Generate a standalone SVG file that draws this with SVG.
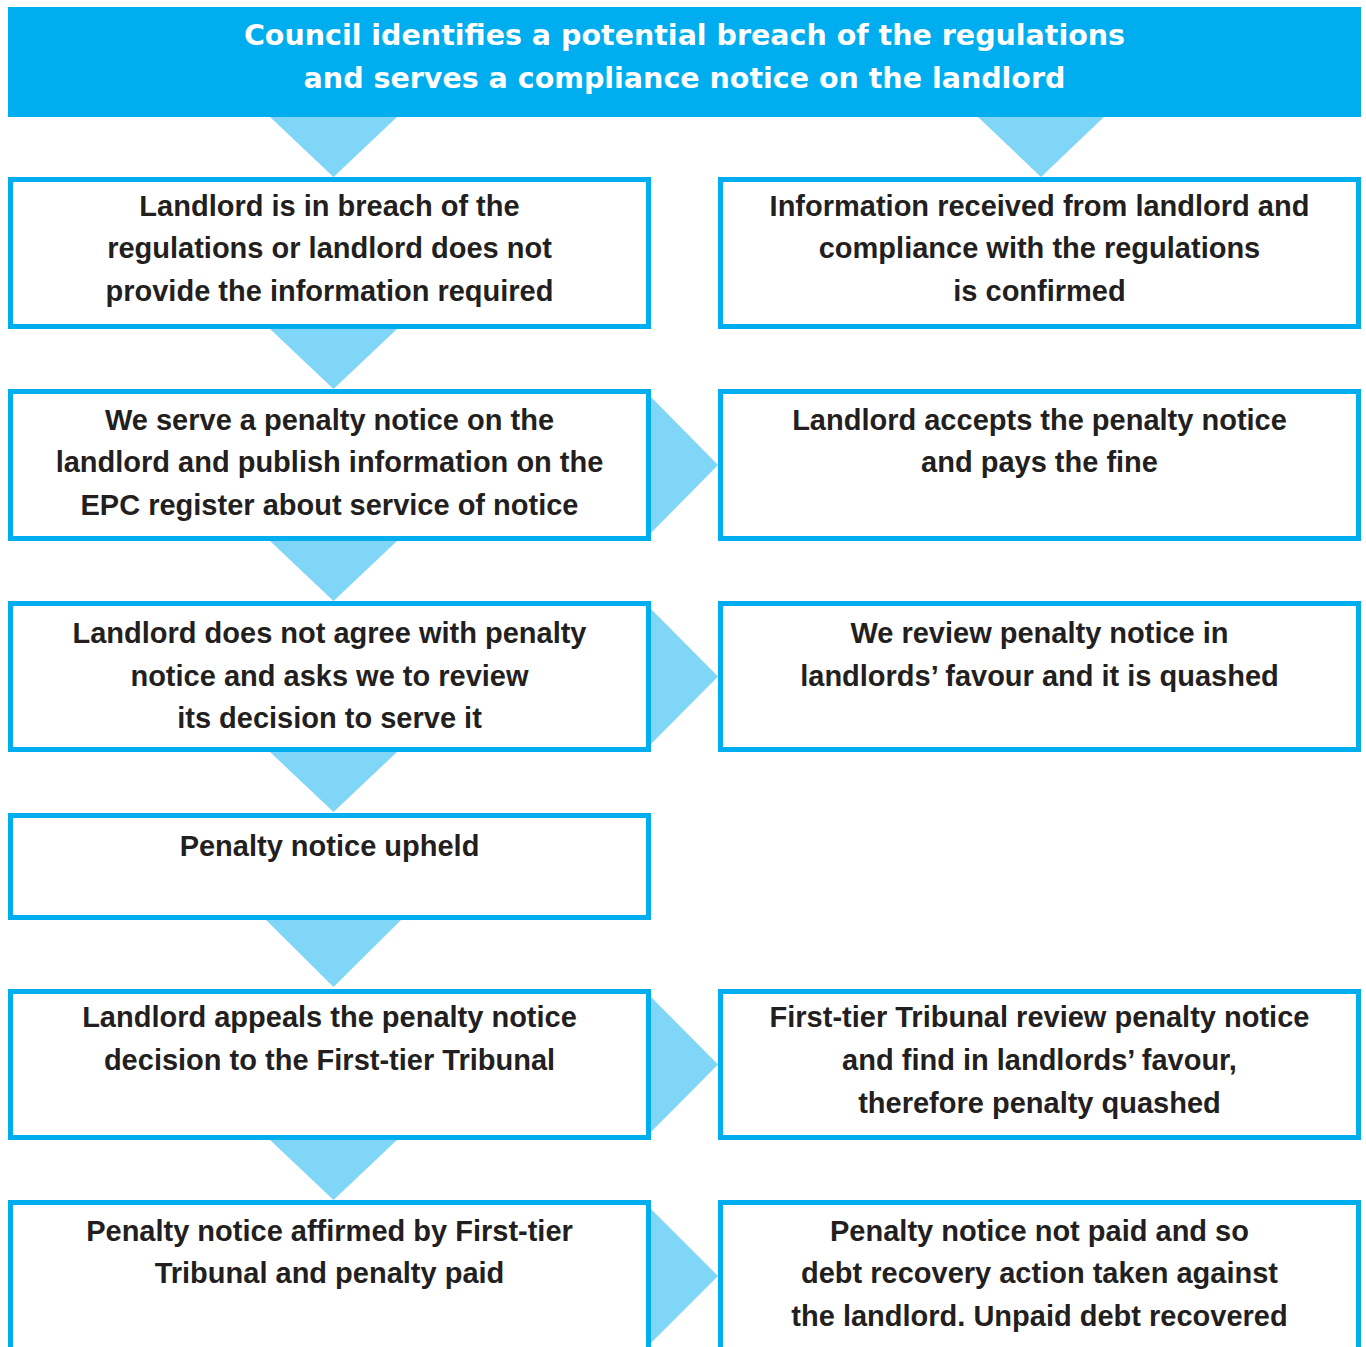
<svg xmlns="http://www.w3.org/2000/svg" width="1366" height="1347" viewBox="0 0 1366 1347">
<style>
.box{fill:#fff;stroke:#00AEEF;stroke-width:5}
.arr{fill:#80D6F7}
.t{font-family:"Liberation Sans",Arial,sans-serif;font-weight:bold;font-size:29px;fill:#231F20;text-anchor:middle}
.h{font-family:"DejaVu Sans","Liberation Sans",sans-serif;font-weight:bold;font-size:28.5px;fill:#fff;text-anchor:middle}
</style>
<rect width="1366" height="1347" fill="#fff"/>
<g id="connectors">
<polygon class="arr" points="269,116 398,116 333.5,177"/>
<polygon class="arr" points="977,116 1105,116 1041,177"/>
<polygon class="arr" points="269,328 398,328 333.5,389"/>
<polygon class="arr" points="269,540 398,540 333.5,601"/>
<polygon class="arr" points="269,751 398,751 333.5,812"/>
<polygon class="arr" points="265,919 402,919 333.5,987"/>
<polygon class="arr" points="269,1139 398,1139 333.5,1200"/>
<polygon class="arr" points="650,396 718,465 650,534"/>
<polygon class="arr" points="650,608 718,676.5 650,745"/>
<polygon class="arr" points="650,996 718,1064.5 650,1133"/>
<polygon class="arr" points="650,1208 718,1276 650,1344"/>
</g>
<g id="header">
<rect x="8" y="7" width="1353" height="110" fill="#00AEEF"/>
<text class="h" x="684.5" y="45">Council identifies a potential breach of the regulations</text>
<text class="h" x="684.5" y="88">and serves a compliance notice on the landlord</text>
</g>
<g id="n1">
<rect class="box" x="10.5" y="179.5" width="638" height="147"/>
<text class="t" x="329.5" y="215.5">Landlord is in breach of the</text>
<text class="t" x="329.5" y="258">regulations or landlord does not</text>
<text class="t" x="329.5" y="300.5">provide the information required</text>
</g>
<g id="n2">
<rect class="box" x="720.5" y="179.5" width="638" height="147"/>
<text class="t" x="1039.5" y="215.5">Information received from landlord and</text>
<text class="t" x="1039.5" y="258">compliance with the regulations</text>
<text class="t" x="1039.5" y="300.5">is confirmed</text>
</g>
<g id="n3">
<rect class="box" x="10.5" y="391.5" width="638" height="147"/>
<text class="t" x="329.5" y="429.5">We serve a penalty notice on the</text>
<text class="t" x="329.5" y="471.5">landlord and publish information on the</text>
<text class="t" x="329.5" y="514.5">EPC register about service of notice</text>
</g>
<g id="n4">
<rect class="box" x="720.5" y="391.5" width="638" height="147"/>
<text class="t" x="1039.5" y="429.5">Landlord accepts the penalty notice</text>
<text class="t" x="1039.5" y="471.5">and pays the fine</text>
</g>
<g id="n5">
<rect class="box" x="10.5" y="603.5" width="638" height="146"/>
<text class="t" x="329.5" y="642.5">Landlord does not agree with penalty</text>
<text class="t" x="329.5" y="685.5">notice and asks we to review</text>
<text class="t" x="329.5" y="727.5">its decision to serve it</text>
</g>
<g id="n6">
<rect class="box" x="720.5" y="603.5" width="638" height="146"/>
<text class="t" x="1039.5" y="642.5">We review penalty notice in</text>
<text class="t" x="1039.5" y="685.5">landlords’ favour and it is quashed</text>
</g>
<g id="n7">
<rect class="box" x="10.5" y="815.5" width="638" height="102"/>
<text class="t" x="329.5" y="855.5">Penalty notice upheld</text>
</g>
<g id="n8">
<rect class="box" x="10.5" y="991.5" width="638" height="146"/>
<text class="t" x="329.5" y="1026.5">Landlord appeals the penalty notice</text>
<text class="t" x="329.5" y="1069.5">decision to the First-tier Tribunal</text>
</g>
<g id="n9">
<rect class="box" x="720.5" y="991.5" width="638" height="146"/>
<text class="t" x="1039.5" y="1026.5">First-tier Tribunal review penalty notice</text>
<text class="t" x="1039.5" y="1069.5">and find in landlords’ favour,</text>
<text class="t" x="1039.5" y="1112.5">therefore penalty quashed</text>
</g>
<g id="n10">
<rect class="box" x="10.5" y="1202.5" width="638" height="147"/>
<text class="t" x="329.5" y="1240.5">Penalty notice affirmed by First-tier</text>
<text class="t" x="329.5" y="1282.5">Tribunal and penalty paid</text>
</g>
<g id="n11">
<rect class="box" x="720.5" y="1202.5" width="638" height="147"/>
<text class="t" x="1039.5" y="1240.5">Penalty notice not paid and so</text>
<text class="t" x="1039.5" y="1282.5">debt recovery action taken against</text>
<text class="t" x="1039.5" y="1325.5">the landlord. Unpaid debt recovered</text>
</g>
</svg>
